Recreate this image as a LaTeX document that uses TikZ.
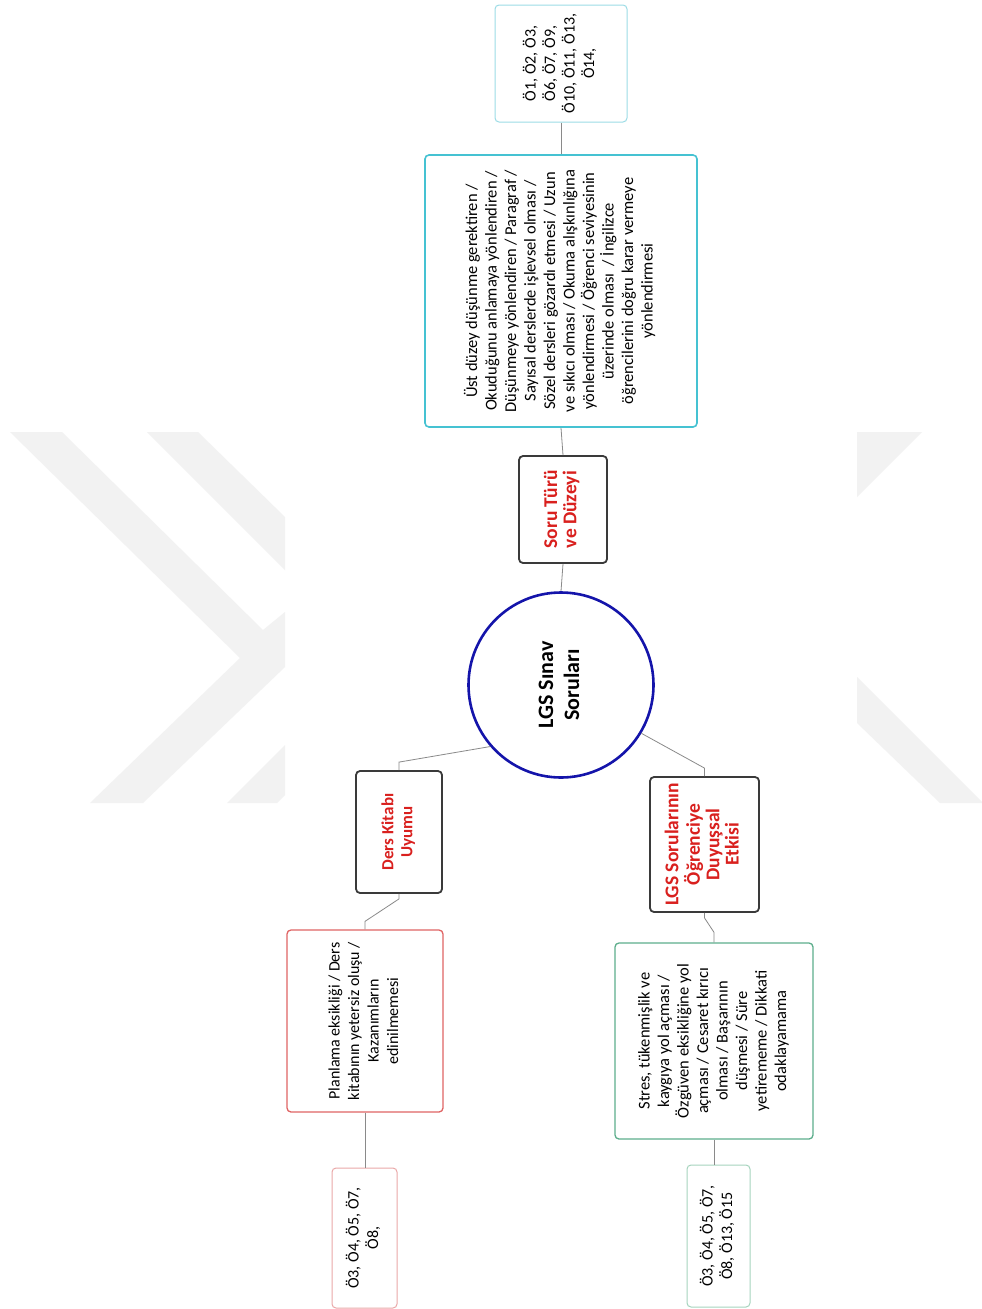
\documentclass[tikz,border=0pt]{standalone}
\usepackage{fontspec}
\setmainfont{Carlito}
\usepackage{graphicx}
\definecolor{wm}{HTML}{F2F2F2}
\definecolor{conngray}{HTML}{8A8A8A}
\definecolor{cyanlight}{HTML}{9CDCE6}
\definecolor{cyanmain}{HTML}{45C2D2}
\definecolor{darkborder}{HTML}{3A3A3A}
\definecolor{titlered}{HTML}{D9201E}
\definecolor{circleblue}{HTML}{1414AA}
\definecolor{redmain}{HTML}{E06464}
\definecolor{redlight}{HTML}{EAA8A8}
\definecolor{greenmain}{HTML}{5DAE8C}
\definecolor{greenlight}{HTML}{A6D4BE}
\newcommand{\rtext}[3]{\rotatebox{90}{\fontsize{#1}{#2}\selectfont\begin{tabular}{@{}c@{}}#3\end{tabular}}}
\begin{document}
\begin{tikzpicture}[x=1pt,y=-1pt,
  conn/.style={draw=conngray, line width=0.8pt},
  leaf/.style={draw, rounded corners=4pt, fill=white, inner sep=0pt},
  titlebox/.style={draw=darkborder, line width=1.8pt, rounded corners=4pt, fill=white, inner sep=0pt, text=titlered, font=\bfseries}]
\fill[white] (0,0) rectangle (982,1309);
\useasboundingbox (0,0) rectangle (982,1309);
% faint watermark
\fill[wm] (10,432) -- (62,432) -- (263,630) -- (285,612) -- (285,667) -- (143,803) -- (90,803) -- (240,658) -- cycle;
\fill[wm] (147,432) -- (198,432) -- (285,517) -- (285,570) -- cycle;
\fill[wm] (227,803) -- (285,745) -- (285,795) -- (277,803) -- cycle;
\fill[wm] (857,432) -- (922,432) -- (857,497) -- cycle;
\fill[wm] (857,677) -- (982,802) -- (982,803) -- (940,803) -- (857,723) -- cycle;

% nodes
\node[leaf, draw=cyanlight, line width=1pt, minimum width=132pt, minimum height=117pt] (o1) at (561,63.5)
  {\rtext{16}{19.5}{Ö1, Ö2, Ö3,\\Ö6, Ö7, Ö9,\\Ö10, Ö11, Ö13,\\Ö14,}};
\node[leaf, draw=cyanmain, line width=1.6pt, minimum width=272pt, minimum height=272pt] (big) at (561,291)
  {\rtext{16.5}{19.5}{Üst düzey düşünme gerektiren /\\Okuduğunu anlamaya yönlendiren /\\Düşünmeye yönlendiren / Paragraf /\\Sayısal derslerde işlevsel olması /\\Sözel dersleri gözardı etmesi / Uzun\\ve sıkıcı olması / Okuma alışkınlığına\\yönlendirmesi / Öğrenci seviyesinin\\üzerinde olması~ / İngilizce\\öğrencilerini doğru karar vermeye\\yönlendirmesi}};
\node[titlebox, minimum width=88pt, minimum height=107pt] (soru) at (563,509.5)
  {\rtext{19.5}{19}{Soru Türü\\ve Düzeyi}};
\node[circle, draw=circleblue, line width=2.6pt, fill=white, minimum size=185pt, inner sep=0pt, font=\bfseries] (c) at (561,685)
  {\rtext{22}{26}{LGS Sınav\\Soruları}};
\node[titlebox, minimum width=86pt, minimum height=122pt] (ders) at (399,832)
  {\rtext{17}{19}{Ders Kitabı\\Uyumu}};
\node[titlebox, minimum width=109pt, minimum height=135pt] (lgs) at (704.5,844.5)
  {\rtext{19.5}{19}{LGS Sorularının\\Öğrenciye\\Duyuşsal\\Etkisi}};
\node[leaf, draw=redmain, line width=1.3pt, minimum width=156pt, minimum height=182pt] (plan) at (365,1021)
  {\rtext{16}{19.5}{Planlama eksikliği / Ders\\kitabının yetersiz oluşu /\\Kazanımların\\edinilmemesi}};
\node[leaf, draw=greenmain, line width=1.3pt, minimum width=198pt, minimum height=196pt] (st) at (714,1041)
  {\rtext{16.5}{19.5}{Stres, tükenmişlik ve\\kaygıya yol açması /\\Özgüven eksikliğine yol\\açması / Cesaret kırıcı\\olması / Başarının\\düşmesi / Süre\\yetirememe / Dikkati\\odaklayamama}};
\node[leaf, draw=redlight, line width=1pt, minimum width=65pt, minimum height=140pt] (bl) at (364.5,1238)
  {\rtext{16}{19.5}{Ö3, Ö4, Ö5, Ö7,\\Ö8,}};
\node[leaf, draw=greenlight, line width=1pt, minimum width=63pt, minimum height=142pt] (br) at (718.5,1236)
  {\rtext{16}{19.5}{Ö3, Ö4, Ö5, Ö7,\\Ö8, Ö13, Ö15}};

% connectors
\draw[conn] (o1.south) -- (big.north);
\draw[conn] (big.south) -- (soru.north);
\draw[conn] (soru.south) -- (c.north);
\draw[conn] (c.221) -- ([yshift=8pt]ders.north) -- (ders.north);
\draw[conn] (c.-31) -- ([yshift=8pt]lgs.north) -- (lgs.north);
\draw[conn] (ders.south) -- ([yshift=-5pt]ders.south) -- ([yshift=8pt]plan.north) -- (plan.north);
\draw[conn] (lgs.south) -- ([yshift=-5pt]lgs.south) -- ([yshift=10pt]st.north) -- (st.north);
\draw[conn] (plan.south) -- (plan.south |- bl.north);
\draw[conn] (st.south) -- (st.south |- br.north);
\end{tikzpicture}
\end{document}
